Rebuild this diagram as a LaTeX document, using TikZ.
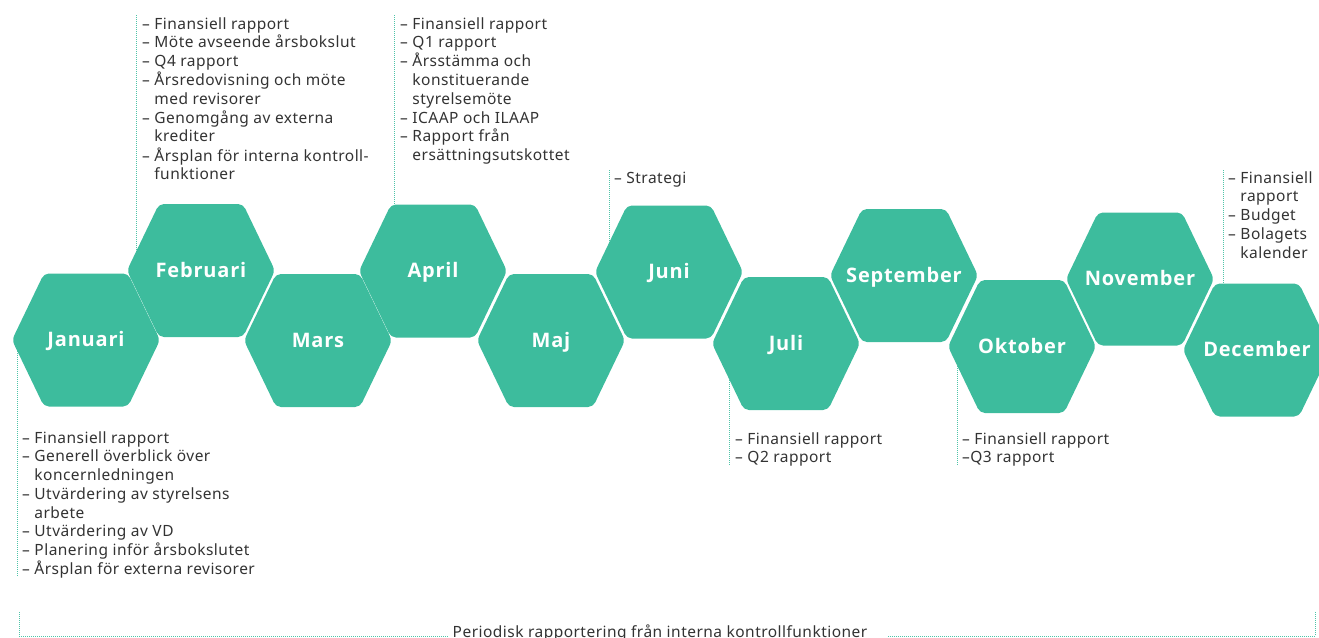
\documentclass[tikz,border=0pt]{standalone}
\usepackage{fontspec}
\setmainfont{Noto Sans}
\newfontfamily\bodyfont[LetterSpace=3]{Noto Sans}
\newfontfamily\monthfont[LetterSpace=4]{Open Sans}

\definecolor{hexgreen}{HTML}{3DBC9D}
\definecolor{leader}{HTML}{4FC4A8}
\definecolor{ink}{HTML}{333333}

\tikzset{
  hexfill/.style={fill=hexgreen, rounded corners=5pt},
  monthlabel/.style={text=white, inner sep=0, anchor=base,
    font=\monthfont\bfseries\fontsize{20}{24}\selectfont},
  notes/.style={text=ink, inner sep=0, anchor=base west,
    font=\bodyfont\fontsize{15.5}{18.75}\selectfont},
  leaderline/.style={leader, line width=1pt, dash pattern=on 1pt off 1pt},
}

% one bulleted column of agenda items, first baseline on the node's base
\newcommand\itemcol[1]{\begin{tabular}[t]{@{}l@{}}#1\end{tabular}}
\newcommand\cont{\phantom{– }}

\begin{document}
\begin{tikzpicture}[x=1pt, y=-1pt]
\useasboundingbox (0,0) rectangle (1319,637);

% leader lines from the agenda columns to their months
\coordinate (janA) at (17,345);   \coordinate (janB) at (17,576);
\coordinate (febA) at (136,15);   \coordinate (febB) at (136,255);
\coordinate (aprA) at (394,15);   \coordinate (aprB) at (394,215);
\coordinate (junA) at (609,170);  \coordinate (junB) at (609,260);
\coordinate (julA) at (729,350);  \coordinate (julB) at (729,465);
\coordinate (oktA) at (957,350);  \coordinate (oktB) at (957,465);
\coordinate (decA) at (1223,170); \coordinate (decB) at (1223,300);
\foreach \a/\b in {janA/janB, febA/febB, aprA/aprB, junA/junB, julA/julB, oktA/oktB, decA/decB}
  \draw[leaderline] (\a) -- (\b);

% bracket for the periodic reporting along the bottom
\coordinate (brL) at (19,612);   \coordinate (brLb) at (19,636);
\coordinate (brLe) at (448,636);
\coordinate (brR) at (1315,612); \coordinate (brRb) at (1315,636);
\coordinate (brRe) at (887,636);
\draw[leaderline] (brL) -- (brLb) -- (brLe);
\draw[leaderline] (brR) -- (brRb) -- (brRe);

% the twelve months as hexagons
\foreach \n/\x/\y/\t in {jan/86/340/Januari, feb/201/270.5/Februari,
    mar/318/340.5/Mars, apr/433/271/April, maj/551/340.5/Maj,
    jun/669/272/Juni, jul/786/343.5/Juli, sep/904/275.5/September,
    okt/1022/346.5/Oktober, nov/1140/279/November, dec/1257/350/December}{
  \fill[hexfill] (\x,\y) ++(-74,0) -- ++(32,-66.5) -- ++(84,0)
    -- ++(32,66.5) -- ++(-32,66.5) -- ++(-84,0) -- cycle;
  \node[monthlabel] (\n) at (\x,\y+6.5) {\t};
}

% agenda items per month
\node[notes] (febnotes) at (142,29) {\itemcol{%
  – Finansiell rapport\\
  – Möte avseende årsbokslut\\
  – Q4 rapport\\
  – Årsredovisning och möte\\
  \cont med revisorer\\
  – Genomgång av externa\\
  \cont krediter\\
  – Årsplan för interna kontroll-\\
  \cont funktioner}};

\node[notes] (aprnotes) at (400,29) {\itemcol{%
  – Finansiell rapport\\
  – Q1 rapport\\
  – Årsstämma och\\
  \cont konstituerande\\
  \cont styrelsemöte\\
  – ICAAP och ILAAP\\
  – Rapport från\\
  \cont ersättningsutskottet}};

\node[notes] (junnotes) at (614,183) {– Strategi};

\node[notes] (decnotes) at (1228,183) {\itemcol{%
  – Finansiell\\
  \cont rapport\\
  – Budget\\
  – Bolagets\\
  \cont kalender}};

\node[notes] (jannotes) at (22,443) {\itemcol{%
  – Finansiell rapport\\
  – Generell överblick över\\
  \cont koncernledningen\\
  – Utvärdering av styrelsens\\
  \cont arbete\\
  – Utvärdering av VD\\
  – Planering inför årsbokslutet\\
  – Årsplan för externa revisorer}};

\node[notes] (julnotes) at (735,444) {\itemcol{%
  – Finansiell rapport\\
  – Q2 rapport}};

\node[notes] (oktnotes) at (962,444) {\itemcol{%
  – Finansiell rapport\\
  –Q3 rapport}};

\node[notes, anchor=base] (periodic) at (660,637)
  {Periodisk rapportering från interna kontrollfunktioner};
\end{tikzpicture}
\end{document}
